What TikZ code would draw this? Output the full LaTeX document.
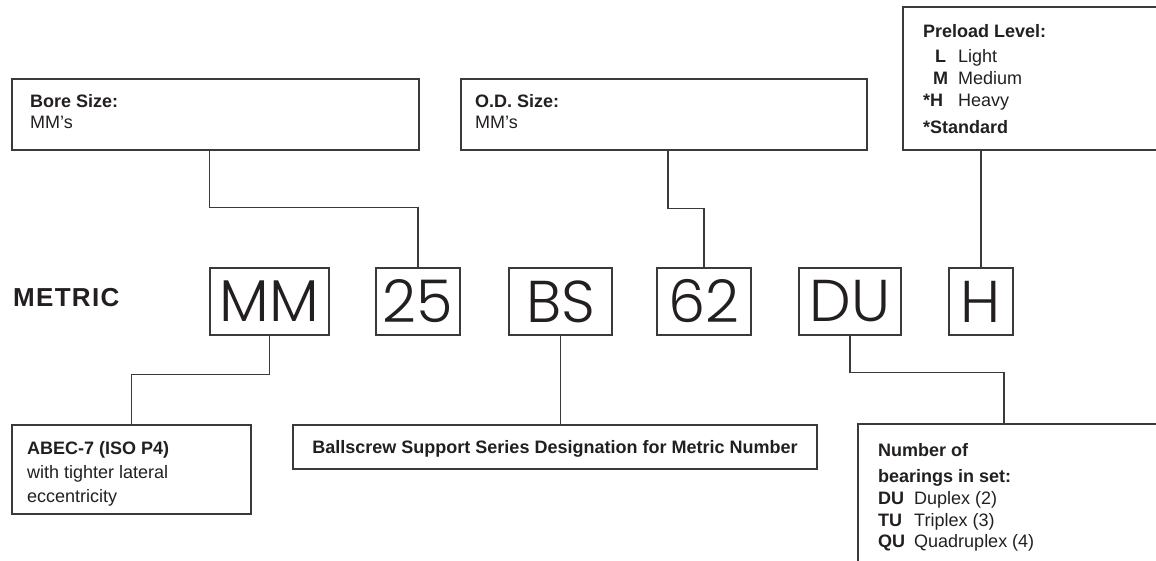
\documentclass[tikz,border=0pt]{standalone}
\usepackage{fontspec}
\setmainfont{Liberation Sans}
\newfontfamily\bigfont{Poppins Light}
\newfontfamily\metricfont[LetterSpace=5]{Liberation Sans}
\definecolor{ink}{HTML}{231F20}
\definecolor{rule}{HTML}{3A3A3A}
\begin{document}
\begin{tikzpicture}[x=1pt,y=-1pt,
  box/.style={draw=rule,line width=1.1pt,rectangle,inner sep=0pt},
  letterbox/.style={box,minimum height=67pt,text=ink,font=\bigfont\fontsize{59}{59}\selectfont},
  lbl/.style={anchor=base west,inner sep=0pt,text=ink,font=\fontsize{18}{21}\selectfont},
  blbl/.style={lbl,font=\fontsize{18}{21}\selectfont\bfseries},
  conn/.style={draw=rule,line width=1.1pt}]
\useasboundingbox (0,0) rectangle (1156,560);
\clip (0,0) rectangle (1156,560);
% upper boxes
\node[box,minimum width=407pt,minimum height=71pt] (bore) at (215.5,114.5) {};
\node[box,minimum width=406pt,minimum height=71pt] (od) at (664,114.5) {};
\node[box,minimum width=267pt,minimum height=143pt] (pre) at (1036.5,78.5) {};
% texts upper
\node[blbl] (boret) at (30,107.5) {Bore Size:};
\node[lbl] (borem) at (30,128) {MM’s};
\node[blbl] (odt) at (475,107.5) {O.D. Size:};
\node[lbl] (odm) at (475,128) {MM’s};
\node[blbl] (pret) at (923,37.5) {Preload Level:};
\node[blbl] (prel) at (935,62.5) {L};
\node[lbl] (prelt) at (958,62.5) {Light};
\node[blbl] (prem) at (933,84.5) {M};
\node[lbl] (premt) at (958,84.5) {Medium};
\node[blbl] (preh) at (923,106.5) {*H};
\node[lbl] (preht) at (958,106.5) {Heavy};
\node[blbl] (pres) at (923,133.5) {*Standard};
% metric row
\node[anchor=west,inner sep=0pt,text=ink,font=\metricfont\fontsize{26}{26}\selectfont\bfseries] (metric) at (13,298) {METRIC};
\node[letterbox,minimum width=119pt] (nMM) at (269.5,301.5) {MM};
\node[letterbox,minimum width=84pt] (n25) at (418,301.5) {25};
\node[letterbox,minimum width=103pt] (nBS) at (560.5,301.5) {BS};
\node[letterbox,minimum width=94pt] (n62) at (704,301.5) {62};
\node[letterbox,minimum width=102pt] (nDU) at (850,301.5) {DU};
\node[letterbox,minimum width=64pt] (nH) at (981,301.5) {H};
% lower boxes
\node[box,minimum width=239pt,minimum height=89pt] (abec) at (131.5,469.5) {};
\node[box,minimum width=524pt,minimum height=44pt] (bscr) at (555,447) {};
\node[box,minimum width=312pt,minimum height=156pt] (num) at (1014,502) {};
\coordinate (numtop) at ([xshift=-10pt]num.north);
% lower texts
\node[blbl] (abect) at (27,454.5) {ABEC-7 (ISO P4)};
\node[lbl] (abec2) at (27,478.5) {with tighter lateral};
\node[lbl] (abec3) at (27,502.5) {eccentricity};
\node[blbl,anchor=base] (bscrt) at (555,453.5) {Ballscrew Support Series Designation for Metric Number};
\node[blbl] (numt1) at (878,456.5) {Number of};
\node[blbl] (numt2) at (878,482) {bearings in set:};
\node[blbl] (ndu) at (878,504.5) {DU};
\node[lbl] (ndut) at (914,504.5) {Duplex (2)};
\node[blbl] (ntu) at (878,526) {TU};
\node[lbl] (ntut) at (914,526) {Triplex (3)};
\node[blbl] (nqu) at (878,547.5) {QU};
\node[lbl] (nqut) at (914,547.5) {Quadruplex (4)};
% connectors
\path[conn] ([xshift=-6pt]bore.south) -- ++(0,57) -| (n25.north);
\path[conn] ([xshift=4pt]od.south) -- ++(0,58) -| (n62.north);
\path[conn] (pre.south -| nH.north) -- (nH.north);
\path[conn] (nMM.south) -- ++(0,39) -| (abec.north);
\path[conn] (nBS.south) -- (nBS.south |- bscr.north);
\path[conn] (nDU.south) -- ++(0,37) -| (numtop);
\end{tikzpicture}
\end{document}
